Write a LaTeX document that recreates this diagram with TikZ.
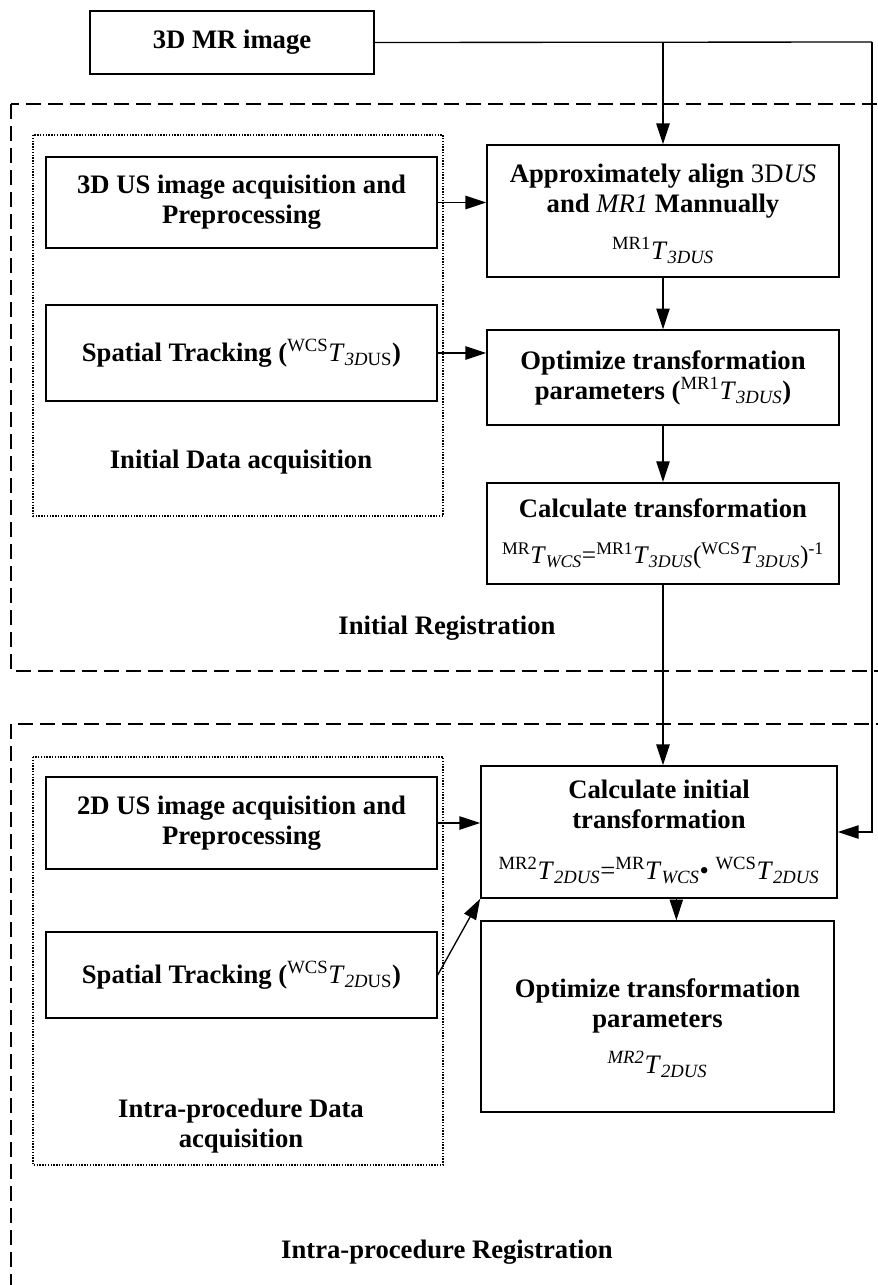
\documentclass[tikz,border=0pt]{standalone}
\usepackage{fontspec}
\setmainfont{Liberation Serif}
\usetikzlibrary{arrows.meta,positioning}

% superscripted frame, italic T, subscripted frame
\newcommand{\trf}[2]{{\mdseries\textsuperscript{#1}\textit{T}\textsubscript{#2}}}

\begin{document}
\begin{tikzpicture}[
  x=0.75pt, y=-0.75pt, line join=miter,
  font=\fontsize{20}{22.5}\selectfont\bfseries,
  procbox/.style={draw, line width=1.3pt, align=center, inner sep=2pt},
  leftbox/.style={procbox, minimum width=293pt},
  rightbox/.style={procbox, minimum width=264pt},
  caption/.style={align=center},
  flow/.style={line width=1pt, -{Triangle[length=15.5pt,width=10pt]}},
  phase/.style={draw, line width=1.3pt, dash pattern=on 11pt off 5.5pt},
  group/.style={draw, line width=1pt, dash pattern=on 1pt off 1.1pt}]

\useasboundingbox (0,0) rectangle (878,1285);
\clip (0,0) rectangle (878,1285);

% ---- frames -------------------------------------------------------------
\draw[phase] (11,104) rectangle (900,671);
\draw[phase] (11,724) rectangle (900,1320);
\draw[group] (33,135) rectangle (443,516);
\draw[group] (33,757) rectangle (443,1165);

% ---- preoperative volume --------------------------------------------------
\node[procbox, minimum width=213pt, minimum height=47pt] (mr) at (232,42.5) {3D MR image};

% ---- initial registration ------------------------------------------------
\node[leftbox, minimum height=68pt] (us3) at (241.5,202.5)
  {3D US image acquisition and\\Preprocessing};
\node[leftbox, minimum height=72pt] (track3) at (241.5,353)
  {Spatial Tracking (\trf{WCS}{\textit{3D}US})};
\node[caption] (acq3) at (241,462) {Initial Data acquisition};

\node[rightbox, minimum height=99pt] (align) at (663,211)
  {\rule{0pt}{18pt}Approximately align {\mdseries 3D\textit{US}}\\and {\mdseries\itshape MR1} Mannually\\[13pt]
   \trf{MR1}{\textit{3DUS}}};
\node[rightbox, minimum height=71pt] (opt3) at (663,377.5)
  {Optimize transformation\\parameters (\trf{MR1}{\textit{3DUS}})};
\node[rightbox, minimum height=76pt] (calc3) at (663,533.5)
  {Calculate transformation\\[12pt]
   {\fontsize{19}{22.5}\selectfont\mdseries
    \trf{MR}{\textit{WCS}}=\trf{MR1}{\textit{3DUS}}(\trf{WCS}{\textit{3DUS}})\textsuperscript{-1}}};
\node[caption] (reg3) at (447,628) {Initial Registration};

% ---- intra-procedure registration ---------------------------------------
\node[leftbox, minimum height=69pt] (us2) at (241.5,823)
  {2D US image acquisition and\\Preprocessing};
\node[leftbox, minimum height=64.5pt] (track2) at (241.5,975)
  {Spatial Tracking (\trf{WCS}{\textit{2D}US})};
\node[caption] (acq2) at (241,1126) {Intra-procedure Data\\acquisition};

\node[rightbox, minimum width=267pt, minimum height=99pt] (calc2) at (659,832)
  {Calculate initial\\transformation\\[16pt]
   {\mdseries\trf{MR2}{\textit{2DUS}}=\trf{MR}{\textit{WCS}}\textbullet\ \trf{WCS}{\textit{2DUS}}}};
\node[rightbox, minimum width=265pt, minimum height=143pt] (opt2) at (657.5,1016.5)
  {\rule{0pt}{32pt}Optimize transformation\\parameters\\[12pt]\trf{\textit{MR2}}{\textit{2DUS}}};
\node[caption] (reg2) at (447,1252) {Intra-procedure Registration};

% ---- connectors ----------------------------------------------------------
\coordinate (feed) at (872,42);
\draw[line width=1pt] (mr.east) -- (feed);
\draw[flow] (mr.east -| align.north) -- (align.north);
\draw[flow] (feed) |- (calc2.east);

\draw[flow] (us3.east) -- (us3.east -| align.west);
\draw[flow] (track3.east) -- (track3.east -| opt3.west);
\draw[flow] (align.south) -- (opt3.north);
\draw[flow] (opt3.south) -- (calc3.north);
\draw[flow] (calc3.south) -- (calc3.south |- calc2.north);

\draw[flow] (us2.east) -- (us2.east -| calc2.west);
\draw[flow] (track2.east) -- (calc2.south west);
\draw[flow] ([xshift=13pt]calc2.south) -- ([xshift=13pt]calc2.south |- opt2.north);

\end{tikzpicture}
\end{document}
